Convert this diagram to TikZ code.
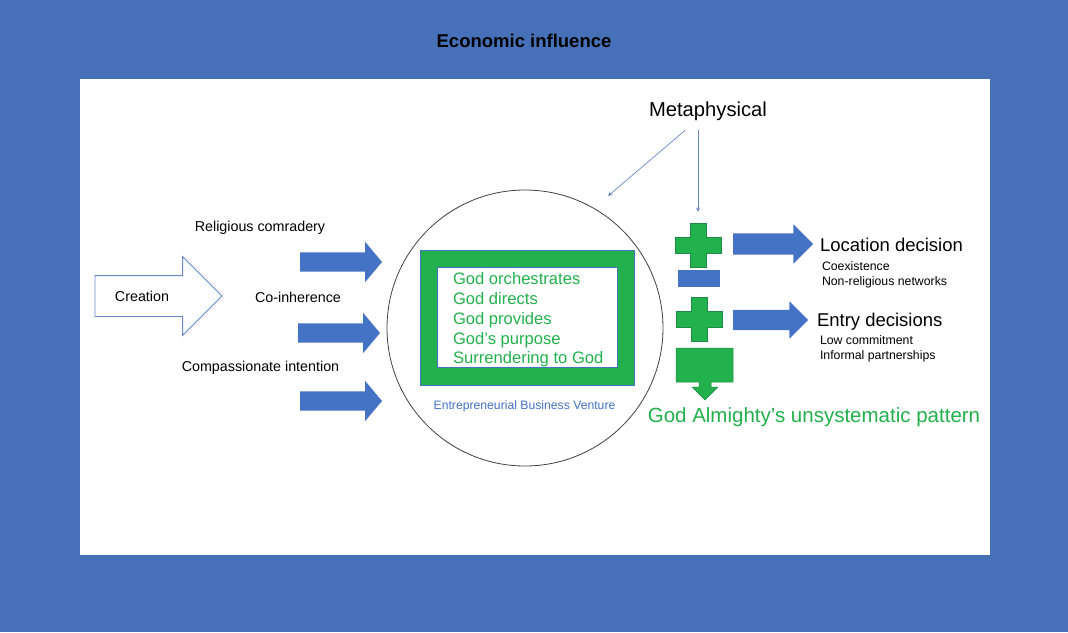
\documentclass[tikz,border=0pt]{standalone}
\usepackage{fontspec}
\setmainfont{Liberation Sans}
\usetikzlibrary{shapes.arrows, arrows.meta}
\definecolor{bgblue}{RGB}{70,113,184}
\definecolor{arrowblue}{RGB}{68,114,196}
\definecolor{linkblue}{RGB}{105,135,200}
\definecolor{godgreen}{RGB}{35,177,77}
\definecolor{plusedge}{RGB}{30,140,70}

\begin{document}
\begin{tikzpicture}[x=1pt, y=-1pt,
    every node/.style={inner sep=0pt, outer sep=0pt},
    label/.style={font=\fontsize{14.3}{17}\selectfont},
    note/.style={font=\fontsize{12.3}{15}\selectfont, align=left, anchor=west},
    decision/.style={font=\fontsize{18.5}{20}\selectfont, anchor=west},
    blockarrow/.style={single arrow, fill=arrowblue, inner xsep=0pt, inner ysep=9.5pt,
        single arrow head extend=10.5pt, single arrow tip angle=100, minimum height=82pt, anchor=tail},
    hollowarrow/.style={single arrow, draw=linkblue, fill=white, line width=0.8pt, inner xsep=0pt, inner ysep=20pt,
        single arrow head extend=19pt, single arrow tip angle=90, minimum height=127pt, anchor=tail},
    link/.style={draw=linkblue, line width=0.7pt, -{Stealth[length=4.5pt, width=4pt]}},
    plusshape/.style={fill=godgreen, draw=plusedge, line width=0.5pt}]

\useasboundingbox (0,0) rectangle (1068,632);
\fill[bgblue] (0,0) rectangle (1068,632);
\fill[white] (80,79) rectangle (990,555);

\node[font=\bfseries\fontsize{18.5}{20}\selectfont] (title) at (524,41) {Economic influence};

% left side
\node[hollowarrow] (creationarrow) at (95,296) {};
\node[label] (creation) at (142,296) {Creation};
\node[label] (comradery) at (260,228) {Religious comradery};
\node[label] (coinherence) at (298,297) {Co-inherence};
\node[label] (intention) at (260.5,368) {Compassionate intention};
\node[blockarrow] (arrowA) at (300,262) {};
\node[blockarrow] (arrowB) at (298,333) {};
\node[blockarrow] (arrowC) at (300,401) {};

% venture
\node[circle, draw=black!75, line width=0.8pt, minimum size=276pt] (venture) at (525,328) {};
\node[fill=godgreen, draw=arrowblue, line width=0.5pt, minimum width=214pt, minimum height=135pt] (frame) at (527,317.5) {};
\node[fill=white, draw=arrowblue, line width=0.4pt, minimum width=180pt, minimum height=100pt] (inner) at (527,317) {};
\node[font=\fontsize{16.6}{19.8}\selectfont, text=godgreen, align=left, anchor=west] (godlist) at (453,320)
    {God orchestrates\\God directs\\God provides\\God's purpose\\Surrendering to God};
\node[font=\fontsize{12.2}{14}\selectfont, text=arrowblue] (venturename) at (524.5,406) {Entrepreneurial Business Venture};

% metaphysical
\node[font=\fontsize{20.2}{22}\selectfont] (meta) at (708,111) {Metaphysical};
\coordinate (ventureTop) at (608,196);
\coordinate (plusTop) at (698,212);
\draw[link] ([xshift=-23pt, yshift=-10pt]meta.south) -- (ventureTop);
\draw[link] ([xshift=-10pt, yshift=-10pt]meta.south) -- (plusTop);

% signs
\foreach \cx/\cy in {698/245, 699/319}
    \filldraw[plusshape] (\cx-8,\cy-22) -- ++(16,0) -- ++(0,14) -- ++(15,0) -- ++(0,16) -- ++(-15,0)
        -- ++(0,14) -- ++(-16,0) -- ++(0,-14) -- ++(-15,0) -- ++(0,-16) -- ++(15,0) -- cycle;
\node[fill=arrowblue, minimum width=42pt, minimum height=17pt] (minus) at (699,278.5) {};
\filldraw[plusshape] (676,348) -- (733,348) -- (733,382) -- (711,382) -- (711,387) -- (718,387)
    -- (705,400) -- (692,387) -- (699,387) -- (699,382) -- (676,382) -- cycle;

% decisions
\node[blockarrow, inner ysep=10.5pt, single arrow head extend=9pt, single arrow tip angle=90, minimum height=80pt] (locarrow) at (733,244) {};
\node[blockarrow, inner ysep=10pt, single arrow head extend=8.5pt, single arrow tip angle=90, minimum height=75pt] (entryarrow) at (733,320) {};
\node[decision] (location) at (820,245) {Location decision};
\node[note] (locnotes) at (822,274.5) {Coexistence\\Non-religious networks};
\node[decision] (entry) at (817,322) {Entry decisions};
\node[note] (entrynotes) at (820,348.5) {Low commitment\\Informal partnerships};

\node[font=\fontsize{20.5}{22}\selectfont, text=godgreen] (pattern) at (814,417) {God Almighty's unsystematic pattern};
\end{tikzpicture}
\end{document}
